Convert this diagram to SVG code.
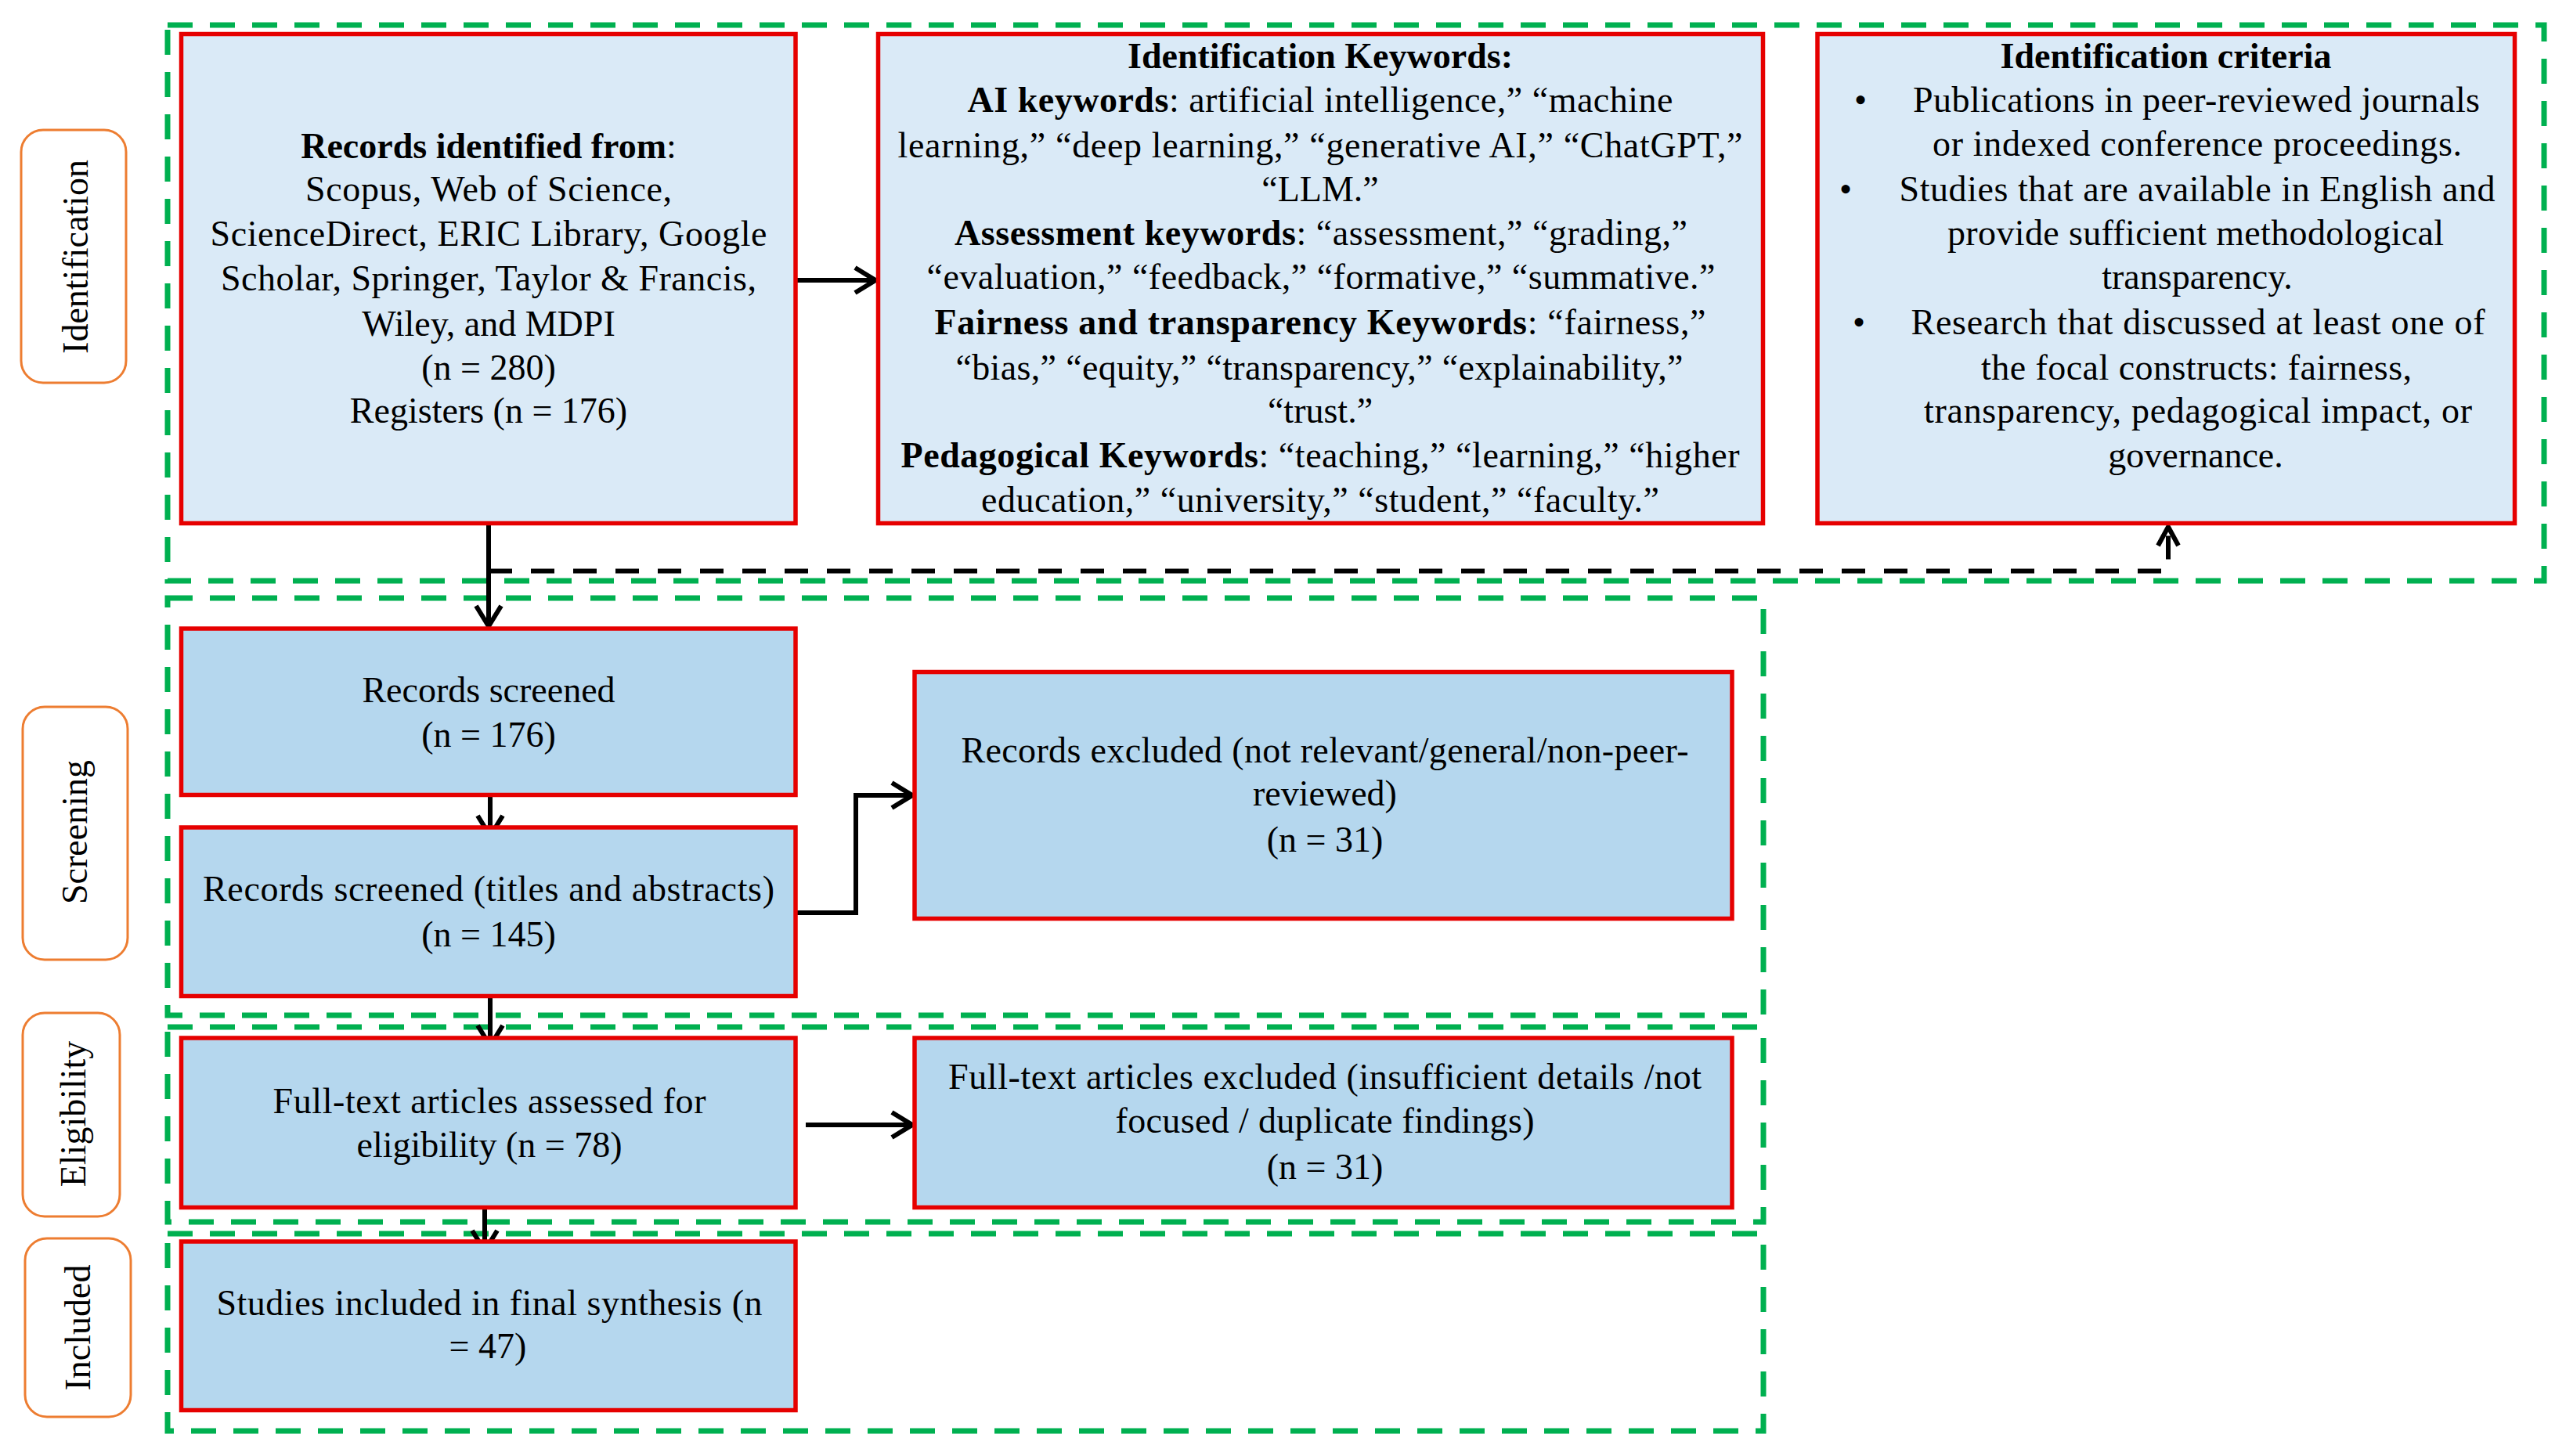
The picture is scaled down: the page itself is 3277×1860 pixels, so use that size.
<svg xmlns="http://www.w3.org/2000/svg" width="3277" height="1860" viewBox="0 0 3277 1860">
<style>
text{font-family:"Liberation Serif","Times New Roman",serif;font-size:46px;fill:#000}
.c{text-anchor:middle}
.b{font-weight:bold}
.grp{fill:none;stroke:#00B050;stroke-width:7;stroke-dasharray:32 22}
.id{fill:#DAEAF7;stroke:#E60000;stroke-width:5.5}
.sc{fill:#B5D7EE;stroke:#E60000;stroke-width:5.5}
.lab{fill:#fff;stroke:#ED7D31;stroke-width:3}
.con{fill:none;stroke:#000;stroke-width:6}
.dash{fill:none;stroke:#000;stroke-width:6;stroke-dasharray:30 24}
</style>
<defs>
<marker id="arr" viewBox="0 0 32 38" refX="29" refY="19" markerWidth="32" markerHeight="38" markerUnits="userSpaceOnUse" orient="auto">
<path d="M3,3 L29,19 L3,35" fill="none" stroke="#000" stroke-width="6"/>
</marker>
<marker id="arr2" viewBox="0 0 30 32" refX="27" refY="16" markerWidth="30" markerHeight="32" markerUnits="userSpaceOnUse" orient="auto">
<path d="M3,3 L27,16 L3,29" fill="none" stroke="#000" stroke-width="6"/>
</marker>
</defs>
<rect width="3277" height="1860" fill="#fff"/>

<g id="groups">
<rect class="grp" x="214" y="32" width="3035" height="710"/>
<rect class="grp" x="214" y="764" width="2038" height="533"/>
<rect class="grp" x="214" y="1312" width="2038" height="249"/>
<rect class="grp" x="214" y="1576" width="2038" height="252"/>
</g>

<g id="stage-identification">
<rect class="lab" x="27" y="166" width="134" height="323" rx="28"/>
<text class="c" transform="translate(112,328) rotate(-90)">Identification</text>
</g>
<g id="stage-screening">
<rect class="lab" x="29" y="903" width="134" height="323" rx="28"/>
<text class="c" transform="translate(111,1063) rotate(-90)">Screening</text>
</g>
<g id="stage-eligibility">
<rect class="lab" x="29" y="1294" width="124" height="260" rx="28"/>
<text class="c" transform="translate(109,1423) rotate(-90)">Eligibility</text>
</g>
<g id="stage-included">
<rect class="lab" x="32" y="1582" width="135" height="228" rx="28"/>
<text class="c" transform="translate(115,1696) rotate(-90)">Included</text>
</g>

<g id="connectors">
<line class="con" x1="624" y1="668" x2="624" y2="800" marker-end="url(#arr)"/>
<path class="dash" d="M624,729.5 H2769 V673" marker-end="url(#arr2)"/>
<line class="con" x1="1016" y1="358" x2="1118" y2="358" marker-end="url(#arr)"/>
<line class="con" x1="626" y1="1015" x2="626" y2="1068" marker-end="url(#arr)"/>
<path class="con" d="M1016,1166 H1093 V1016 H1165" stroke-width="7" marker-end="url(#arr)"/>
<line class="con" x1="626" y1="1272" x2="626" y2="1336" marker-end="url(#arr)"/>
<line class="con" x1="1029" y1="1437" x2="1165" y2="1437" marker-end="url(#arr)"/>
<line class="con" x1="619" y1="1533" x2="619" y2="1598" marker-end="url(#arr)"/>
</g>

<g id="records-identified">
<rect class="id" x="231.5" y="43.5" width="784.5" height="625"/>
<text class="c" x="624" y="202"><tspan class="b">Records identified from</tspan>:</text>
<text class="c" x="624" y="257" textLength="468" lengthAdjust="spacing">Scopus, Web of Science,</text>
<text class="c" x="624" y="314" textLength="711" lengthAdjust="spacing">ScienceDirect, ERIC Library, Google</text>
<text class="c" x="624" y="371" textLength="684" lengthAdjust="spacing">Scholar, Springer, Taylor &amp; Francis,</text>
<text class="c" x="624" y="429">Wiley,  and MDPI</text>
<text class="c" x="624" y="485">(n = 280)</text>
<text class="c" x="624" y="540">Registers (n = 176)</text>
</g>

<g id="identification-keywords">
<rect class="id" x="1121.5" y="43.5" width="1130" height="625"/>
<text class="c b" x="1686" y="87">Identification Keywords:</text>
<text class="c" x="1686" y="143" textLength="901" lengthAdjust="spacing"><tspan class="b">AI keywords</tspan>: artificial intelligence,” “machine</text>
<text class="c" x="1686" y="201" textLength="1079" lengthAdjust="spacing">learning,” “deep learning,” “generative AI,” “ChatGPT,”</text>
<text class="c" x="1686" y="257">“LLM.”</text>
<text class="c" x="1687" y="313" textLength="936" lengthAdjust="spacing"><tspan class="b">Assessment keywords</tspan>: “assessment,” “grading,”</text>
<text class="c" x="1687" y="369" textLength="1007" lengthAdjust="spacing">“evaluation,” “feedback,” “formative,” “summative.”</text>
<text class="c" x="1686" y="427" textLength="985" lengthAdjust="spacing"><tspan class="b">Fairness and transparency Keywords</tspan>: “fairness,”</text>
<text class="c" x="1685" y="485" textLength="929" lengthAdjust="spacing">“bias,” “equity,” “transparency,” “explainability,”</text>
<text class="c" x="1686" y="540">“trust.”</text>
<text class="c" x="1686" y="597" textLength="1071" lengthAdjust="spacing"><tspan class="b">Pedagogical Keywords</tspan>: “teaching,” “learning,” “higher</text>
<text class="c" x="1686" y="654" textLength="866" lengthAdjust="spacing">education,” “university,” “student,” “faculty.”</text>
</g>

<g id="identification-criteria">
<rect class="id" x="2321" y="43.5" width="890.5" height="625"/>
<text class="c b" x="2766" y="87">Identification criteria</text>
<text class="c" x="2376" y="143">•</text>
<text class="c" x="2805" y="143" textLength="724" lengthAdjust="spacing">Publications in peer-reviewed journals</text>
<text class="c" x="2806" y="199" textLength="676" lengthAdjust="spacing">or indexed conference proceedings.</text>
<text class="c" x="2357" y="257">•</text>
<text class="c" x="2806" y="257" textLength="761" lengthAdjust="spacing">Studies that are available in English and</text>
<text class="c" x="2804" y="313" textLength="634" lengthAdjust="spacing">provide sufficient methodological</text>
<text class="c" x="2806" y="369">transparency.</text>
<text class="c" x="2374" y="427">•</text>
<text class="c" x="2807" y="427" textLength="733" lengthAdjust="spacing">Research that discussed at least one of</text>
<text class="c" x="2805" y="485" textLength="550" lengthAdjust="spacing">the focal constructs: fairness,</text>
<text class="c" x="2807" y="540" textLength="700" lengthAdjust="spacing">transparency, pedagogical impact, or</text>
<text class="c" x="2804" y="597">governance.</text>
</g>

<g id="records-screened">
<rect class="sc" x="231.5" y="803" width="784.5" height="212.5"/>
<text class="c" x="624" y="897">Records screened</text>
<text class="c" x="624" y="954">(n = 176)</text>
</g>

<g id="records-screened-titles">
<rect class="sc" x="231.5" y="1057" width="784.5" height="215.5"/>
<text class="c" x="624" y="1151" textLength="730" lengthAdjust="spacing">Records screened (titles and abstracts)</text>
<text class="c" x="624" y="1209">(n = 145)</text>
</g>

<g id="records-excluded">
<rect class="sc" x="1168" y="858.5" width="1044" height="315"/>
<text class="c" x="1692" y="973.5" textLength="929" lengthAdjust="spacing">Records excluded (not relevant/general/non-peer-</text>
<text class="c" x="1692" y="1029">reviewed)</text>
<text class="c" x="1692" y="1088">(n = 31)</text>
</g>

<g id="fulltext-assessed">
<rect class="sc" x="231.5" y="1326" width="784.5" height="216.5"/>
<text class="c" x="625" y="1422" textLength="553" lengthAdjust="spacing">Full-text articles assessed for</text>
<text class="c" x="625" y="1478">eligibility  (n = 78)</text>
</g>

<g id="fulltext-excluded">
<rect class="sc" x="1168" y="1326" width="1044" height="216.5"/>
<text class="c" x="1692" y="1391" textLength="962" lengthAdjust="spacing">Full-text articles excluded (insufficient details /not</text>
<text class="c" x="1692" y="1446.5" textLength="535" lengthAdjust="spacing">focused / duplicate findings)</text>
<text class="c" x="1692" y="1505.7">(n = 31)</text>
</g>

<g id="studies-included">
<rect class="sc" x="231.5" y="1586" width="784.5" height="215.5"/>
<text class="c" x="625" y="1679.5" textLength="697" lengthAdjust="spacing">Studies included in final synthesis (n</text>
<text class="c" x="623" y="1735">= 47)</text>
</g>
</svg>
